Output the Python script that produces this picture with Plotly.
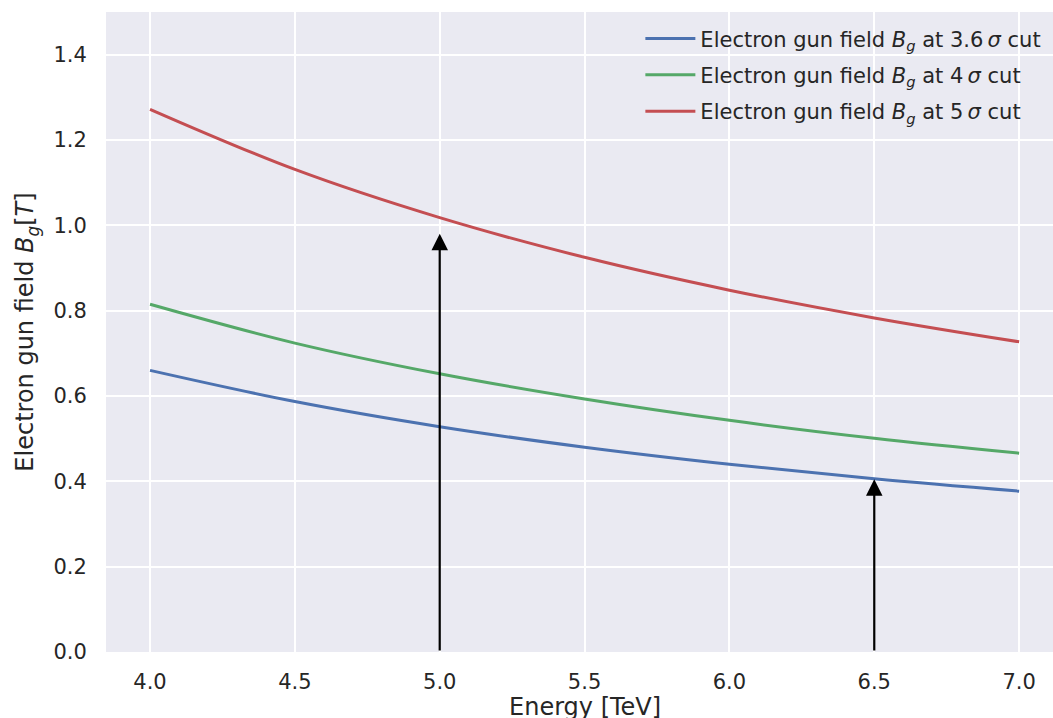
import plotly.graph_objects as go

energy = [4.0, 4.5, 5.0, 5.5, 6.0, 6.5, 7.0]
b_36sigma = [0.660, 0.587, 0.528, 0.480, 0.440, 0.406, 0.377]
b_4sigma = [0.815, 0.724, 0.652, 0.593, 0.543, 0.501, 0.466]
b_5sigma = [1.272, 1.131, 1.018, 0.925, 0.848, 0.783, 0.727]

series_names = [
    "Electron gun field <i>B</i><sub><i>g</i></sub> at 3.6\u2009<i>σ</i> cut",
    "Electron gun field <i>B</i><sub><i>g</i></sub> at 4\u2009<i>σ</i> cut",
    "Electron gun field <i>B</i><sub><i>g</i></sub> at 5\u2009<i>σ</i> cut",
]
series_colors = ["#4C72B0", "#55A868", "#C44E52"]

arrow_x = [5.0, 6.5]
arrow_tip = [0.98, 0.405]
arrow_base = [0.0, 0.0]

xticks = [4.0, 4.5, 5.0, 5.5, 6.0, 6.5, 7.0]
yticks = [0.0, 0.2, 0.4, 0.6, 0.8, 1.0, 1.2, 1.4]
x_range = [3.848, 7.117]

fig = go.Figure()
for i, (vals, name, col) in enumerate(zip([b_36sigma, b_4sigma, b_5sigma], series_names, series_colors)):
    fig.add_trace(go.Scatter(
        x=energy, y=vals, mode="lines", name=name,
        line=dict(color=col, width=3, shape="spline"),
        legendgroup=f"g{i}",
    ))

for ax_, tip, base in zip(arrow_x, arrow_tip, arrow_base):
    fig.add_annotation(
        x=ax_, y=tip, ax=ax_, ay=base, xref="x", yref="y", axref="x", ayref="y",
        text="", showarrow=True, arrowhead=2, arrowsize=1.5, arrowwidth=2.2,
        arrowcolor="black",
    )

# x-axis title (placed as annotation to match the reference, partly cut at the bottom)
fig.add_annotation(
    x=5.5, xref="x", y=-0.086, yref="paper", xanchor="center", yanchor="middle",
    text="Energy [TeV]", showarrow=False, font=dict(size=24, color="#262626"),
)

fig.update_layout(
    width=1053, height=718,
    margin=dict(l=106, r=0, t=12, b=66),
    paper_bgcolor="white",
    plot_bgcolor="#EAEAF2",
    font=dict(family="DejaVu Sans", color="#262626", size=21),
    showlegend=True,
    legend=dict(
        x=0.993, y=0.99, xanchor="right", yanchor="top",
        bgcolor="rgba(0,0,0,0)", borderwidth=0,
        font=dict(size=21, color="#262626"),
        tracegroupgap=6, itemwidth=50,
    ),
    xaxis=dict(
        range=x_range, tickvals=xticks, tickformat=".1f",
        showgrid=True, gridcolor="white", gridwidth=1.6, zeroline=False,
        showline=False, ticks="outside", ticklen=11, tickcolor="rgba(0,0,0,0)",
        tickfont=dict(size=21), automargin=False,
    ),
    yaxis=dict(
        range=[0, 1.5], tickvals=yticks, tickformat=".1f",
        showgrid=True, gridcolor="white", gridwidth=1.6, zeroline=False,
        showline=False, ticks="outside", ticklen=14, tickcolor="rgba(0,0,0,0)",
        title=dict(text="Electron gun field <i>B</i><sub><i>g</i></sub>[<i>T</i>]", font=dict(size=24), standoff=12),
        tickfont=dict(size=21), automargin=False,
    ),
)

fig.write_html("out.html")
